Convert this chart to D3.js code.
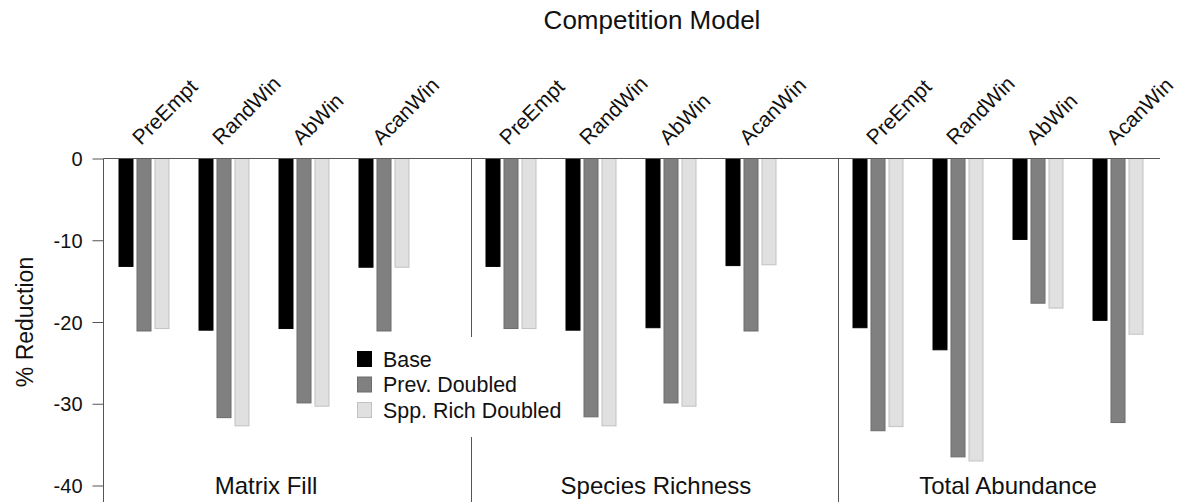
<!DOCTYPE html>
<html>
<head>
<meta charset="utf-8">
<script src="https://cdn.jsdelivr.net/npm/d3@7"></script>
<style>
  body { margin: 0; background: #fff; }
  text { font-family: "Liberation Sans", Arial, Helvetica, sans-serif; fill: #111; }
</style>
</head>
<body>
<svg id="chart" width="1183" height="502"></svg>
<script>
// Outcome metrics (panels), competition models (groups) and scenarios (bars)
const metrics = ["Matrix Fill", "Species Richness", "Total Abundance"];
const models = ["PreEmpt", "RandWin", "AbWin", "AcanWin"];
const scenarios = ["Base", "Prev. Doubled", "Spp. Rich Doubled"];

// % reduction per metric, listed in model order
const baseValues = [
  [-13.2, -21.0, -20.8, -13.3],
  [-13.2, -21.0, -20.7, -13.1],
  [-20.7, -23.4, -9.9, -19.8]
];
const prevDoubledValues = [
  [-21.1, -31.7, -29.9, -21.1],
  [-20.8, -31.6, -29.9, -21.1],
  [-33.3, -36.5, -17.7, -32.3]
];
const sppRichDoubledValues = [
  [-20.8, -32.7, -30.3, -13.3],
  [-20.8, -32.7, -30.3, -13.0],
  [-32.8, -37.0, -18.3, -21.5]
];
const yTicks = [0, -10, -20, -30, -40];

const fills = ["#000000", "#808080", "#e0e0e0"];
const strokes = ["#000000", "#6c6c6c", "#c2c2c2"];

const svg = d3.select("#chart");
const W = 1183, H = 502;
const left = 103.5, right = 1160;
const panelW = 367;

const y = d3.scaleLinear().domain([0, -40]).range([158.5, 485.5]);

const xPanel = d3.scaleBand().domain(metrics).range([left, left + panelW * metrics.length]);
const xModel = d3.scaleBand().domain(models).range([15.5, 305.5]).paddingInner(0.375);
const xScen = d3.scaleBand().domain(scenarios).range([0, 50]).paddingInner(4 / 18);

const valuesBy = [baseValues, prevDoubledValues, sppRichDoubledValues];
const rows = [];
metrics.forEach((m, mi) => models.forEach((md, ki) => scenarios.forEach((s, si) => {
  rows.push({ metric: m, model: md, scen: s, si, value: valuesBy[si][mi][ki] });
})));

// Title
svg.append("text").attr("x", 652).attr("y", 29).attr("text-anchor", "middle")
  .style("font-size", "26px").text("Competition Model");

// Bars
svg.append("g").selectAll("rect").data(rows).join("rect")
  .attr("x", d => xPanel(d.metric) + xModel(d.model) + xScen(d.scen))
  .attr("y", y(0))
  .attr("width", xScen.bandwidth())
  .attr("height", d => y(d.value) - y(0))
  .attr("fill", d => fills[d.si])
  .attr("stroke", d => strokes[d.si])
  .attr("stroke-width", 1);

// Panel separators
svg.append("g").selectAll("line").data(metrics.slice(1)).join("line")
  .attr("x1", d => Math.round(xPanel(d)) + 0.5).attr("x2", d => Math.round(xPanel(d)) + 0.5)
  .attr("y1", y(0)).attr("y2", H)
  .attr("stroke", "#555").attr("stroke-width", 1);

// Zero baseline
svg.append("line").attr("x1", left).attr("x2", right).attr("y1", y(0)).attr("y2", y(0))
  .attr("stroke", "#555").attr("stroke-width", 1);

// Y axis
const yAxis = d3.axisLeft(y).tickValues(yTicks).tickSize(11).tickFormat(d => String(d));
const gy = svg.append("g").attr("transform", `translate(${left},0)`).call(yAxis);
gy.select(".domain").remove();
gy.selectAll(".tick line").attr("stroke", "#555");
gy.selectAll(".tick text").attr("x", -21).attr("dy", "0.35em")
  .style("font-size", "20px").style("font-family", "'Liberation Sans', Arial, sans-serif").attr("fill", "#111");
svg.append("line").attr("x1", left).attr("x2", left).attr("y1", y(0)).attr("y2", H)
  .attr("stroke", "#555").attr("stroke-width", 1);

svg.append("text").attr("transform", "translate(33,322) rotate(-90)")
  .attr("text-anchor", "middle").style("font-size", "23px").text("% Reduction");

// Rotated model labels above each group
const labelData = [];
metrics.forEach(m => models.forEach(md => labelData.push({ m, md })));
svg.append("g").selectAll("text").data(labelData).join("text")
  .attr("transform", d => {
    const cx = xPanel(d.m) + xModel(d.md) + xModel.bandwidth() / 2 - 3;
    return `translate(${cx},146) rotate(-45)`;
  })
  .style("font-size", "21px").text(d => d.md);

// Panel labels along the bottom
const panelLabelShift = [-21, 2, -13];
svg.append("g").selectAll("text").data(metrics).join("text")
  .attr("x", (d, i) => xPanel(d) + panelW / 2 + panelLabelShift[i])
  .attr("y", 494).attr("text-anchor", "middle")
  .style("font-size", "24px").text(d => d);

// Legend with a white backing
const lg = svg.append("g").attr("transform", "translate(357,351)");
lg.append("rect").attr("x", -8).attr("y", -14).attr("width", 225).attr("height", 100).attr("fill", "#fff");
scenarios.forEach((s, i) => {
  const row = lg.append("g").attr("transform", `translate(0,${i * 25.5})`);
  row.append("rect").attr("x", 0.5).attr("y", 0.5).attr("width", 14).attr("height", 15)
    .attr("fill", fills[i]).attr("stroke", strokes[i]);
  row.append("text").attr("x", 26).attr("y", 15.5).style("font-size", "21.4px").text(s);
});
</script>
</body>
</html>
